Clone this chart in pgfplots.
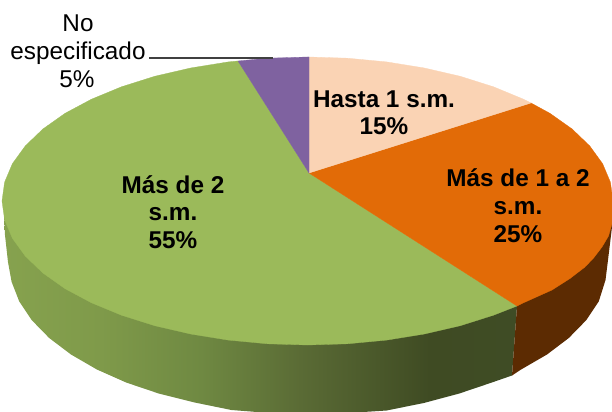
\documentclass[border=0pt]{standalone}
\usepackage{pgfplots}
\pgfplotsset{compat=1.18}
\usepackage{fontspec}
\setmainfont{Liberation Sans}
\definecolor{peach}{HTML}{FAD3B4}
\definecolor{orng}{HTML}{E26B07}
\definecolor{grn}{HTML}{9BBA5A}
\definecolor{purp}{HTML}{7F62A0}
\definecolor{brn}{HTML}{5C2B02}
\definecolor{gs0}{HTML}{86A24E}
\definecolor{gs1}{HTML}{7F9A4A}
\definecolor{gs2}{HTML}{6F8942}
\definecolor{gs3}{HTML}{5A6B35}
\definecolor{gs4}{HTML}{3F4B23}
\definecolor{gs5}{HTML}{3F4C25}
\pgfdeclarehorizontalshading{greenside}{100bp}{color(0bp)=(gs0); color(25bp)=(gs0); color(34.4bp)=(gs1); color(44.2bp)=(gs2); color(53.9bp)=(gs3); color(66.5bp)=(gs4); color(75bp)=(gs5); color(100bp)=(gs5)}
\begin{document}
\begin{tikzpicture}
\begin{axis}[
  scale only axis, width=612bp, height=412bp,
  xmin=0, xmax=612, ymin=0, ymax=412, y dir=reverse,
  hide axis, clip=true,
]
\path (axis cs:0,0) rectangle (axis cs:612,412);
% sides
\addplot[shading=greenside, draw=none] coordinates {
 (4,215)(5,235)(8,262)(11.6,281.8)(19.2,301.3)(31.8,320.2)(49.2,338)(71,354.5)(96.9,369.5)(126.4,382.6)(159,393.6)(194.2,402.4)(231.4,410)(269.8,413)(309,414)(348.2,413)(386.6,410.5)(423.8,403)(459,393.6)(491.6,382.6)(512,375.5)(517,306)(300,250)};
\addplot[fill=brn, draw=none] coordinates {
 (517,306)(512,375.5)(521.1,369.5)(547,354.5)(568.8,338)(586.2,320.2)(598.8,301.3)(605.5,280)(608,260)(612,227)(613,201)(540,250)};
% top surface
\addplot[fill=grn, draw=grn, line width=0.3pt] coordinates {
 (309,173)(517,306)(493.5,315.2)(460.3,325.7)(424.4,334)(386.6,340.1)(347.4,343.8)(307.5,345)(267.6,343.8)(228.4,340.1)(190.6,334)(154.7,325.7)(121.5,315.2)(91.5,302.8)(65.1,288.7)(42.9,273)(25.3,256.1)(12.4,238.3)(4.6,219.8)(2,201)(4.6,182.2)(12.4,163.7)(25.3,145.9)(42.9,129)(65.1,113.3)(91.5,99.2)(121.5,86.8)(154.7,76.3)(190.6,68)(228.4,61.9)(238,61)} -- cycle;
\addplot[fill=orng, draw=orng, line width=0.3pt] coordinates {
 (309,173)(531,103)(549.9,113.3)(572.1,129)(589.7,145.9)(602.6,163.7)(610.4,182.2)(613,201)(612.5,222)(608.5,236)(602,247)(594,257.5)(585,267)(570,278.5)(552,290)(523.5,302.8)(517,306)} -- cycle;
\addplot[fill=peach, draw=peach, line width=0.3pt] coordinates {
 (309,173)(309,57)(347.4,58.2)(386.6,61.9)(424.4,68)(460.3,76.3)(493.5,86.8)(523.5,99.2)(531,103)} -- cycle;
\addplot[fill=purp, draw=purp, line width=0.3pt] coordinates {
 (309,173)(238,61)(267.6,58.2)(307.5,57)(309,57)} -- cycle;
% leader line
\addplot[draw=black!75, line width=1.2pt] coordinates {(149,58)(273,58)};
% labels
\def\lab#1#2#3{\node[anchor=base, inner sep=0pt, font=\fontsize{24.3bp}{28bp}\selectfont] at (axis cs:#1,#2) {#3};}
\lab{78}{32}{No}
\lab{78}{60}{especificado}
\lab{77}{88}{5\%}
\def\blab#1#2#3{\node[anchor=base, inner sep=0pt, font=\fontsize{24.3bp}{28bp}\selectfont\bfseries] at (axis cs:#1,#2) {#3};}
\blab{384}{107}{Hasta 1 s.m.}
\blab{384}{134}{15\%}
\blab{518}{186}{Más de 1 a 2}
\blab{518}{214}{s.m.}
\blab{518}{242}{25\%}
\blab{173}{193}{Más de 2}
\blab{173}{220}{s.m.}
\blab{173}{248}{55\%}
\end{axis}
\end{tikzpicture}
\end{document}
